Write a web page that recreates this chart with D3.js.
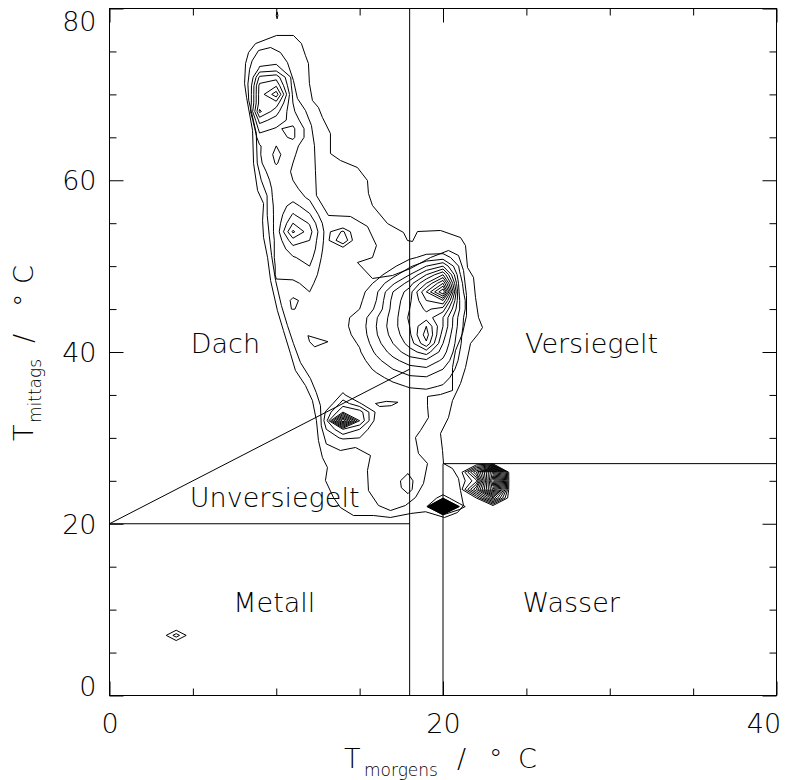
<!DOCTYPE html>
<html>
<head>
<meta charset="utf-8">
<script src="https://cdn.jsdelivr.net/npm/d3@7"></script>
<style>
body { margin: 0; background: #fff; }
text { font-family: "DejaVu Sans", sans-serif; font-weight: 200; fill: #000; }
.big, .tick text { font-size: 27px; }
.contour { fill: none; stroke: #000; stroke-width: 1; }
.frame, .bound { fill: none; stroke: #000; stroke-width: 1; }
</style>
</head>
<body>
<div id="chart"></div>
<script>
// axes
const xMajor = [0, 20, 40];
const xMinor = [5, 10, 15, 25, 30, 35];
const yMajor = [0, 20, 40, 60, 80];
const yMinor = [5, 10, 15, 25, 30, 35, 45, 50, 55, 65, 70, 75];

// class borders (T_morgens, T_mittags)
const borders = [
  [[18, 0], [18, 80]],
  [[20, 0], [20, 27]],
  [[20, 27], [40, 27]],
  [[0, 20], [18, 20]],
  [[0, 20], [18, 38]]
];

const classNames = ["Dach", "Versiegelt", "Unversiegelt", "Metall", "Wasser"];
const classX = [4.9, 24.95, 4.85, 7.45, 24.8];
const classY = [39.8, 39.8, 21.9, 9.7, 9.7];

// lowest contour level
const outerContour = [
  [8.34,74.88],[8.76,75.92],[10.02,76.86],[11.03,76.86],[11.51,75.92],[11.75,74.53],[11.93,73.60],
  [11.99,71.27],[12.17,69.29],[12.53,68.47],[12.77,67.31],[13.25,65.44],[13.25,63.11],[13.85,62.30],
  [14.87,61.48],[15.47,59.97],[15.53,58.46],[15.77,57.06],[16.67,54.96],[17.63,53.92],[17.87,52.98],
  [18.17,52.87],[18.47,54.03],[19.85,54.15],[21.05,53.33],[21.35,52.40],[21.47,49.84],[21.83,48.68],
  [21.95,46.35],[22.13,44.02],[22.37,42.85],[22.13,42.15],[21.65,40.99],[21.35,38.19],[21.05,36.33],
  [20.57,34.35],[20.33,32.37],[19.85,30.51],[19.97,28.53],[20.03,27.02],[20.57,26.43],[20.93,25.27],
  [21.05,23.87],[21.23,22.13],[20.87,21.31],[20.09,20.73],[18.95,21.40],[18.05,21.19],[16.85,20.73],
  [15.83,20.96],[14.63,20.96],[13.85,21.89],[13.43,23.06],[12.95,25.04],[13.07,26.55],[12.77,27.71],
  [12.53,29.69],[12.41,32.02],[12.17,34.35],[11.75,36.10],[11.15,37.85],[10.85,39.83],[10.43,42.50],
  [10.07,44.83],[9.66,48.33],[9.48,51.00],[9.24,53.33],[9.18,55.31],[9.24,57.29],[8.88,58.81],
  [8.64,61.95],[8.58,65.79],[8.22,69.64],[8.10,71.27],[8.16,73.60]
];

// second contour level
const secondContour = [
  [8.55,73.90],[8.94,75.11],[9.66,75.46],[10.25,74.88],[10.67,73.71],[11.03,71.62],[11.27,69.52],
  [11.75,68.13],[12.11,66.38],[12.29,64.05],[12.35,61.15],[12.41,58.23],[13.13,55.90],[14.45,55.78],
  [15.47,54.62],[16.01,52.40],[15.77,51.00],[14.87,50.42],[15.77,48.56],[16.97,48.91],[18.05,49.72],
  [19.25,51.00],[20.33,51.82],[20.93,51.24],[21.23,49.50],[21.41,46.58],[21.41,44.25],[21.17,42.15],
  [20.75,40.17],[20.57,38.19],[20.57,35.52],[19.85,35.05],[19.07,34.82],[19.07,33.77],[19.13,32.37],
  [18.65,30.86],[18.35,30.04],[18.53,28.18],[19.07,27.02],[18.83,24.69],[18.35,23.06],[17.75,22.13],
  [16.85,21.54],[16.13,22.13],[15.53,23.87],[15.47,26.20],[15.65,27.95],[14.75,28.88],[13.85,28.53],
  [13.00,29.30],[12.70,31.40],[12.65,33.77],[12.40,35.28],[12.05,36.91],[11.45,38.78],[11.03,40.99],
  [10.67,43.09],[10.31,45.41],[9.96,48.33],[9.72,51.24],[9.58,53.57],[9.46,55.90],[9.45,58.20],
  [9.10,60.00],[8.86,62.00],[8.80,65.50],[8.35,69.30],[8.30,71.20],[8.40,72.90]
];

// small closed islands
const islands = [
  [[17.9,25.85],[18.2,25.0],[18.15,24.0],[17.9,23.5],[17.5,24.2],[17.45,25.0]],
  [[15.95,34.0],[16.6,34.25],[17.3,34.15],[16.9,33.75],[16.2,33.65]],
  [[11.9,41.9],[13.1,41.2],[12.3,40.6],[12.0,41.2]],
  [[10.05,79.6],[10.1,79.2],[10.05,78.8],[10.0,79.2]]
];

// count grids (1 degC cells), rows from top (yTop) downwards, columns from x0
const upperRows = [
  [0,0,0,0,0,0,0,0,0],
  [0,0,0,0,0,0,0,0,0],
  [0,0,1,1,0,0,0,0,0],
  [0,0,2.4,2.6,1,0,0,0,0],
  [0,-0.5,3.2,3.4,2.0,0,0,0,0],
  [0,-0.5,5.2,5.6,2.6,0,0,0,0],
  [0,-0.5,6.3,6.9,2.6,1,0,0,0],
  [0,-0.5,6.4,8.6,2.8,1,0,0,0],
  [0,-0.5,6.4,6.6,3.0,1.5,0,0,0],
  [0,-0.5,7.2,5.4,3.2,1.5,0,0,0],
  [0,-0.5,5.4,4.6,3.6,2.0,0,0,0],
  [0,-0.5,4.4,3.9,4.2,2.4,0,0,0],
  [0,0,3.6,3.6,4.2,2.4,0,0,0],
  [0,0,2.9,4.0,3.4,2.2,0,0,0],
  [0,0,2.9,4.3,3.2,2.0,0,0,0],
  [0,0,2.8,4.1,3.0,1.8,0,0,0],
  [0,0,2.6,3.6,2.9,1.8,0,0,0],
  [0,0,2.4,3.4,3.0,2.2,0,0,0],
  [0,0,2.2,3.3,3.3,2.4,0,0,0],
  [0,0,2.0,3.3,3.6,2.8,1,0,0],
  [0,0,1.6,3.3,4.4,3.4,1.5,0,0],
  [0,0,1.5,3.3,5.1,4.1,2.0,0,0],
  [0,0,1.5,3.3,6.0,4.9,2.4,1.5,0],
  [0,0,1.5,3.3,7.2,5.4,2.6,4.2,1.5],
  [0,0,1.5,3.2,5.6,5.0,2.6,5.0,1.5],
  [0,0,1.5,3.2,4.6,4.8,2.5,2.5,0],
  [0,0,1.5,3.2,3.9,4.4,2.4,1,0],
  [0,0,1.5,3.1,3.4,4.0,2.3,1,0],
  [0,0,1.5,3.1,3.3,3.7,2.2,1,0],
  [0,0,1.5,2.9,2.8,3.3,2.1,1,0],
  [0,0,1.5,2.6,2.6,3.0,2.0,1,0],
  [0,0,1.5,2.0,3.2,2.6,1.8,1,0],
  [0,0,1.5,2.0,3.1,2.3,1.5,1,0],
  [0,0,0,0,0,0,0,0,0]
];
const mainRows = [
  [0,0,0,0,0,0,0,0,0,0,0],
  [0,0,1,1.5,2,2.2,2.5,2.4,2,1,0],
  [0,0,1,1.8,2.3,2.8,3.3,3.5,2.4,1,0],
  [0,0,1.5,2.2,2.8,3.8,5,6,2.8,1,0],
  [0,0,2,2.6,3.6,5,7,9,3.1,1,0],
  [0,1,2.3,3.2,4.8,6.5,9,12,3.4,1,0],
  [0,2,2.6,3.8,6,7.5,11,15,3.6,1,0],
  [0,2.3,2.8,4,6.3,7.8,10,11,4,1,0],
  [0,2.4,3,4.2,6.4,8,9.2,8.5,4,1,0],
  [0,2.8,3.3,4.9,6.5,8.2,8.6,7,3.6,1,0],
  [0,2.8,3.4,5,6.6,8,10,7,3.5,1,0],
  [0,2.7,3.3,4.9,6.4,7.8,10.5,6.5,3.3,1,0],
  [0,2.5,3.1,4.6,6,7.4,9.8,6,3.2,1,0],
  [0,2.3,2.9,4.2,5.4,6.6,7.5,5.5,3,1,0],
  [0,2.2,2.6,3.7,4.7,5.5,5.8,4.8,2.8,1,0],
  [0,2,2.4,3.2,4,4.6,4.8,4,2.6,1,0],
  [0,2,2.2,2.7,3.3,3.8,3.9,3.4,2.4,1,0],
  [0,2,2,2.3,2.7,3.1,3.2,2.9,2.2,1,0],
  [0,2,2,2,2.2,2.5,2.6,2.4,2,1,0],
  [0,0,0,0,0,0,0,0,0,0,0]
];
const unversRows = [
  [0,0,0,0,0,0,0],
  [0,0,0,2.2,0,0,0],
  [0,0,1,3.3,1,0,0],
  [0,0,2,4.5,3.2,1,0],
  [0,0,3.2,6,5.5,2.8,0],
  [0,0,3.5,13,6,2.5,0],
  [0,0,3,5,4,2,0],
  [0,0,2,3.3,3,1,0],
  [0,0,0,1,0,0,0],
  [0,0,0,0,0,0,0]
];
const wasserRows = [
  [0,0,0,0,0,0],
  [0,0,0,0.5,0,0],
  [0,0,7,17,0,0],
  [0,0,3,19,0,0],
  [0,0,7,17,0,0],
  [0,0,1,8,0,0],
  [0,0,0,0,0,0],
  [0,0,0,0,0,0]
];
const spikeRows = [
  [0,0,0,0],
  [0,1.6,0,0],
  [0,30,1.5,0],
  [0,0,0,0],
  [0,0,0,0]
];
const metallRows = [
  [0,0,0],
  [0,2.5,0],
  [0,0,0]
];

const grids = [
  {rows: upperRows, x0: 7, yTop: 77, levels: d3.range(3, 10)},
  {rows: mainRows, x0: 13, yTop: 53, levels: d3.range(3, 16)},
  {rows: unversRows, x0: 11, yTop: 37, levels: d3.range(3, 14)},
  {rows: wasserRows, x0: 20, yTop: 28, levels: d3.range(1, 19, 1.2)},
  {rows: spikeRows, x0: 19, yTop: 24, levels: d3.range(1, 30)},
  {rows: metallRows, x0: 3, yTop: 8, levels: [1, 2]}
];

var width = 794, height = 780;

var svg = d3.select("#chart").append("svg")
  .attr("width", width)
  .attr("height", height);

var x = d3.scaleLinear().domain([0, 40]).range([109, 776]);
var y = d3.scaleLinear().domain([0, 80]).range([695, 8]);

var plot = svg.append("g").attr("transform", "translate(0.5,0.5)");

// contours
var line = d3.line().x(d => x(d[0])).y(d => y(d[1])).curve(d3.curveLinearClosed);
plot.append("path").attr("class", "contour").attr("d", line(outerContour));
plot.append("path").attr("class", "contour").attr("d", line(secondContour));
plot.selectAll(".island").data(islands).join("path")
  .attr("class", "contour island")
  .attr("d", line);

grids.forEach(function(grid) {
  var n = grid.rows[0].length, m = grid.rows.length;
  var sets = d3.contours().size([n, m]).thresholds(grid.levels)(grid.rows.flat());
  var proj = d3.geoTransform({
    point: function(gx, gy) {
      this.stream.point(x(grid.x0 + gx - 0.5), y(grid.yTop - gy + 0.5));
    }
  });
  plot.append("g").selectAll("path").data(sets).join("path")
    .attr("class", "contour")
    .attr("d", d3.geoPath(proj));
});

// class borders
plot.selectAll(".bound").data(borders).join("path")
  .attr("class", "bound")
  .attr("d", d => d3.line()(d.map(p => [x(p[0]), y(p[1])])));

// frame
plot.append("rect").attr("class", "frame")
  .attr("x", x(0)).attr("y", y(80))
  .attr("width", x(40) - x(0)).attr("height", y(0) - y(80));

// ticks on all four sides
function ticks(axis, vals, size, tx, ty) {
  var g = plot.append("g").attr("transform", "translate(" + tx + "," + ty + ")")
    .call(axis.tickValues(vals).tickSize(size).tickFormat(""));
  g.select(".domain").remove();
  return g;
}
ticks(d3.axisBottom(x), xMinor, -7, 0, y(0));
ticks(d3.axisTop(x), xMajor, -14, 0, y(80));
ticks(d3.axisTop(x), xMinor, -7, 0, y(80));
ticks(d3.axisLeft(y), yMinor, -7, x(0), 0);
ticks(d3.axisRight(y), yMajor, -14, x(40), 0);
ticks(d3.axisRight(y), yMinor, -7, x(40), 0);

var xAxis = plot.append("g").attr("transform", "translate(0," + y(0) + ")")
  .call(d3.axisBottom(x).tickValues(xMajor).tickSize(-14).tickPadding(18).tickFormat(d3.format("d")));
xAxis.select(".domain").remove();
xAxis.attr("font-family", null).attr("font-size", null);
xAxis.selectAll("text").attr("x", d => Math.min(x(d), x(40) - 13) - x(d));

var yAxis = plot.append("g").attr("transform", "translate(" + x(0) + ",0)")
  .call(d3.axisLeft(y).tickValues(yMajor).tickSize(-14).tickPadding(13).tickFormat(d3.format("d")));
yAxis.select(".domain").remove();
yAxis.attr("font-family", null).attr("font-size", null);
yAxis.selectAll("text")
  .attr("dy", "0.36em")
  .attr("y", d => Math.max(y(80) + 12.5, Math.min(y(0) - 10, y(d))) - y(d));

// class names
svg.selectAll(".cls").data(classNames).join("text")
  .attr("class", "cls big")
  .attr("x", (d, i) => x(classX[i]))
  .attr("y", (d, i) => y(classY[i]))
  .text(d => d);

// axis titles
var xt = svg.append("text").attr("class", "big").attr("y", 768);
xt.append("tspan").attr("x", 344).text("T");
xt.append("tspan").attr("x", 364).attr("dy", 8).style("font-size", "17px").text("morgens");
xt.append("tspan").attr("x", 457).attr("dy", -8).text("/");
xt.append("tspan").attr("x", 489).text("°");
xt.append("tspan").attr("x", 518).text("C");

var yt = svg.append("text").attr("class", "big").attr("transform", "translate(33,0) rotate(-90)");
yt.append("tspan").attr("x", -441).text("T");
yt.append("tspan").attr("x", -423).attr("dy", 8).style("font-size", "17px").text("mittags");
yt.append("tspan").attr("x", -343).attr("dy", -8).text("/");
yt.append("tspan").attr("x", -307).text("°");
yt.append("tspan").attr("x", -284).text("C");
</script>
</body>
</html>
